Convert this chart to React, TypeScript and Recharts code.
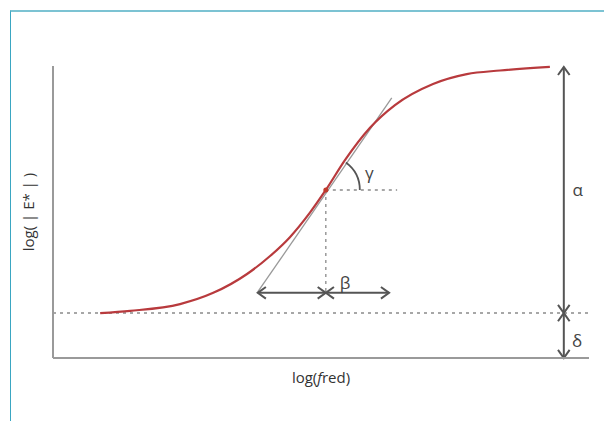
import React from 'react';
import { LineChart, Line, XAxis, YAxis, ReferenceLine, ReferenceDot } from 'recharts';

// log(fred) and log(|E*|)
const logFred = [-4.12, -3.56, -2.63, -2.01, -1.38, -0.95, -0.58, -0.21, 0.09, 0.45, 0.91, 1.38, 2.09, 2.72, 3.34, 4.27];
const logModulus = [1.0, 1.05, 1.2, 1.45, 1.87, 2.27, 2.69, 3.23, 3.74, 4.41, 5.12, 5.63, 6.1, 6.32, 6.4, 6.48];

const data = logFred.map((x, i) => ({ x, y: logModulus[i] }));

// annotation anchors (data units)
const delta = 1.0;
const top = 6.48;
const inflection = { x: 0.09, y: 3.74 };
const tangent = [{ x: -1.18, y: 1.47 }, { x: 1.32, y: 5.79 }];
const betaY = 1.45;
const betaLeft = -1.18;
const betaRight = 1.27;
const horizEnd = 1.42;
const arrowX = 4.53;

const labelPos = [
  { text: 'α', x: 4.79, y: 3.74 },
  { text: 'δ', x: 4.78, y: 0.4 },
  { text: 'β', x: 0.45, y: 1.67 },
  { text: 'γ', x: 0.9, y: 4.14 },
];

const grey = '#555';

const arrowShape = (props: any) => {
  const { x1, y1, x2, y2 } = props;
  const ang = Math.atan2(y2 - y1, x2 - x1);
  const head = (x: number, y: number, a: number) => {
    const l = 10;
    const w = 0.62;
    return `M${x + l * Math.cos(a + w)},${y + l * Math.sin(a + w)} L${x},${y} L${x + l * Math.cos(a - w)},${y + l * Math.sin(a - w)} `;
  };
  return (
    <g>
      <line x1={x1} y1={y1} x2={x2} y2={y2} stroke={grey} strokeWidth={2} />
      <path d={head(x1, y1, ang) + head(x2, y2, ang + Math.PI)} fill="none" stroke={grey} strokeWidth={2} />
    </g>
  );
};

const arcShape = (props: any) => {
  const { cx, cy } = props;
  const r = 34;
  const a = -0.94;
  return (
    <path
      d={`M${cx + r * Math.cos(a)},${cy + r * Math.sin(a)} A${r},${r} 0 0 1 ${cx + r},${cy}`}
      fill="none"
      stroke={grey}
      strokeWidth={1.8}
    />
  );
};

const XLabel = (p: any) => {
  const vb = p.viewBox;
  return (
    <text x={vb.x + vb.width / 2} y={vb.y + 25} textAnchor="middle" fill="#333" fontSize={15}>
      log(<tspan fontStyle="italic">f</tspan>red)
    </text>
  );
};

export default function App() {
  return (
    <div style={{ position: 'absolute', left: 0, top: 0, width: 604, height: 421, background: '#fff', fontFamily: '"Open Sans", sans-serif' }}>
      <div
        style={{
          position: 'absolute',
          left: 10,
          top: 10,
          width: 594,
          height: 411,
          borderTop: '2px solid #7cc3d3',
          borderLeft: '1.5px solid #3aa6c2',
          boxSizing: 'border-box',
        }}
      />
      <div style={{ position: 'absolute', left: 0, top: 0 }}>
        <LineChart width={604} height={421} data={data} margin={{ top: 66, right: 15, left: 5, bottom: 0 }}>
          <XAxis
            dataKey="x"
            type="number"
            domain={[-5, 5]}
            tick={false}
            tickLine={false}
            height={63}
            axisLine={{ stroke: '#9a9a9a', strokeWidth: 2 }}
            label={{ content: XLabel }}
          />
          <YAxis
            type="number"
            domain={[0, 6.5]}
            tick={false}
            tickLine={false}
            width={48}
            axisLine={{ stroke: '#9a9a9a', strokeWidth: 2 }}
            label={{ value: 'log( | E* | )', angle: -90, position: 'center', fill: '#333', fontSize: 15 }}
          />
          <ReferenceLine y={delta} stroke="#8a8a8a" strokeWidth={1.5} strokeDasharray="3 4" />
          <ReferenceLine
            segment={[{ x: inflection.x, y: inflection.y }, { x: inflection.x, y: betaY }]}
            stroke="#8a8a8a"
            strokeWidth={1.3}
            strokeDasharray="3 4"
          />
          <ReferenceLine
            segment={[{ x: inflection.x, y: inflection.y }, { x: horizEnd, y: inflection.y }]}
            stroke="#8a8a8a"
            strokeWidth={1.3}
            strokeDasharray="3 4"
          />
          <ReferenceLine segment={tangent} stroke="#999" strokeWidth={1.3} />
          <Line
            dataKey="y"
            type="monotone"
            stroke="#b83a3d"
            strokeWidth={2.2}
            dot={false}
            isAnimationActive={false}
          />
          <ReferenceLine segment={[{ x: betaLeft, y: betaY }, { x: inflection.x, y: betaY }]} shape={arrowShape} />
          <ReferenceLine segment={[{ x: inflection.x, y: betaY }, { x: betaRight, y: betaY }]} shape={arrowShape} />
          <ReferenceLine segment={[{ x: arrowX, y: top }, { x: arrowX, y: delta }]} shape={arrowShape} />
          <ReferenceLine segment={[{ x: arrowX, y: delta }, { x: arrowX, y: 0 }]} shape={arrowShape} />
          <ReferenceDot x={inflection.x} y={inflection.y} r={2.5} fill="#c0392b" stroke="none" />
          <ReferenceDot x={inflection.x} y={inflection.y} shape={arcShape} />
          {labelPos.map((l) => (
            <ReferenceDot
              key={l.text}
              x={l.x}
              y={l.y}
              shape={(p: any) => (
                <text x={p.cx} y={p.cy} textAnchor="middle" dominantBaseline="central" fill="#444" fontSize={17}>
                  {l.text}
                </text>
              )}
            />
          ))}
        </LineChart>
      </div>
    </div>
  );
}
